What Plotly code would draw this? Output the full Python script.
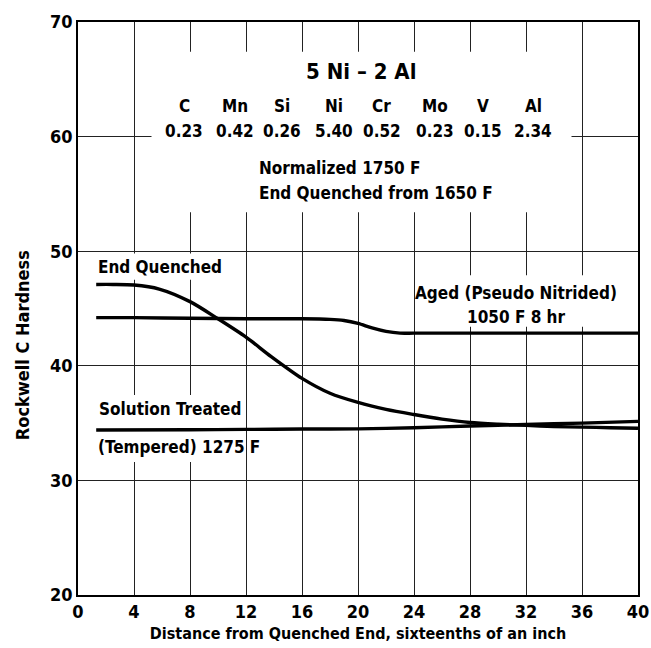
import plotly.graph_objects as go

# ---- data ----
eq_x = [1.3, 2.5, 4, 5.8, 8, 10, 12, 13.8, 16, 18, 20, 22, 24, 26, 28, 30, 32, 34, 36, 38, 40]
eq_y = [47.1, 47.1, 47.05, 46.7, 45.6, 44.1, 42.5, 40.8, 38.9, 37.6, 36.8, 36.2, 35.75, 35.35, 35.05, 34.9, 34.8, 34.7, 34.65, 34.6, 34.55]

aged_x = [1.3, 4, 8, 12, 16, 18, 19, 20, 21, 22, 23, 24, 28, 32, 36, 40]
aged_y = [44.2, 44.2, 44.15, 44.1, 44.1, 44.05, 43.95, 43.7, 43.3, 43.0, 42.85, 42.85, 42.85, 42.85, 42.85, 42.85]

sol_x = [1.3, 8, 12, 16, 20, 24, 28, 32, 36, 40]
sol_y = [34.4, 34.42, 34.45, 34.48, 34.5, 34.6, 34.75, 34.88, 35.0, 35.15]

x_ticks = [0, 4, 8, 12, 16, 20, 24, 28, 32, 36, 40]
y_ticks = [20, 30, 40, 50, 60, 70]

elements = ["C", "Mn", "Si", "Ni", "Cr", "Mo", "V", "Al"]
element_vals = ["0.23", "0.42", "0.26", "5.40", "0.52", "0.23", "0.15", "2.34"]
element_pos = [7.6, 11.2, 14.6, 18.3, 21.7, 25.5, 28.9, 32.5]

FONT = "Liberation Sans Narrow, DejaVu Sans Condensed, Arial Narrow, sans-serif"

fig = go.Figure()
for xs, ys in [(eq_x, eq_y), (aged_x, aged_y), (sol_x, sol_y)]:
    fig.add_trace(go.Scatter(x=xs, y=ys, mode="lines",
                             line=dict(color="black", width=3.4, shape="spline", smoothing=0.8),
                             showlegend=False, hoverinfo="skip"))

# white masks that interrupt the grid behind the text blocks
masks = [
    (5.25, 35.25, 53.4, 67.4),
    (1.0, 9.0, 47.5, 49.8),
    (24.8, 37.7, 43.4, 47.9),
    (1.2, 11.7, 31.6, 37.45),
]
for x0, x1, y0, y1 in masks:
    fig.add_shape(type="rect", xref="x", yref="y", x0=x0, x1=x1, y0=y0, y1=y1,
                  fillcolor="white", line=dict(width=0), layer="between")

def txt(x, y, s, size=17, xanchor="center"):
    fig.add_annotation(x=x, y=y, xref="x", yref="y", text=s, showarrow=False,
                       xanchor=xanchor, yanchor="middle",
                       font=dict(family=FONT, size=size, color="black", weight="bold"))

txt(20.2, 65.64, "5 Ni – 2 Al", size=22)
for e, v, p in zip(elements, element_vals, element_pos):
    txt(p, 62.67, e, size=17)
    txt(p, 60.49, v, size=17)
txt(12.75, 57.26, "Normalized 1750 F", size=17, xanchor="left")
txt(12.75, 55.08, "End Quenched from 1650 F", size=17, xanchor="left")
txt(1.25, 48.62, "End Quenched", size=17, xanchor="left")
txt(31.25, 46.35, "Aged (Pseudo Nitrided)", size=17)
txt(31.35, 44.26, "1050 F 8 hr", size=17)
txt(6.6, 36.23, "Solution Treated", size=17)
txt(1.3, 32.9, "(Tempered) 1275 F", size=17, xanchor="left")

# y-axis title (placed slightly below plot centre, as in the reference)
fig.add_annotation(x=-0.1, y=0.436, xref="paper", yref="paper", text="Rockwell C Hardness",
                   textangle=-90, showarrow=False, xanchor="center", yanchor="middle",
                   font=dict(family=FONT, size=18, color="black", weight="bold"))

fig.update_layout(
    width=651, height=648,
    margin=dict(l=78, r=13, t=22, b=53, autoexpand=False),
    paper_bgcolor="white", plot_bgcolor="white",
    font=dict(family=FONT, color="black"),
)
fig.update_xaxes(range=[0, 40], tickvals=x_ticks, ticktext=[str(t) for t in x_ticks],
                 showgrid=True, gridcolor="#222", gridwidth=1,
                 showline=True, linecolor="black", linewidth=1.5, mirror=True,
                 ticks="", zeroline=False, ticklabeloverflow="allow", automargin=False,
                 tickfont=dict(family=FONT, size=18, weight="bold"),
                 title=dict(text="Distance from Quenched End, sixteenths of an inch",
                            font=dict(family=FONT, size=16, weight="bold"), standoff=6))
fig.update_yaxes(range=[20, 70], tickvals=y_ticks, ticktext=[str(t) for t in y_ticks],
                 showgrid=True, gridcolor="#222", gridwidth=1,
                 showline=True, linecolor="black", linewidth=1.5, mirror=True,
                 ticks="", zeroline=False, ticklabeloverflow="allow", automargin=False,
                 tickfont=dict(family=FONT, size=18, weight="bold"))

fig.write_html("out.html")
